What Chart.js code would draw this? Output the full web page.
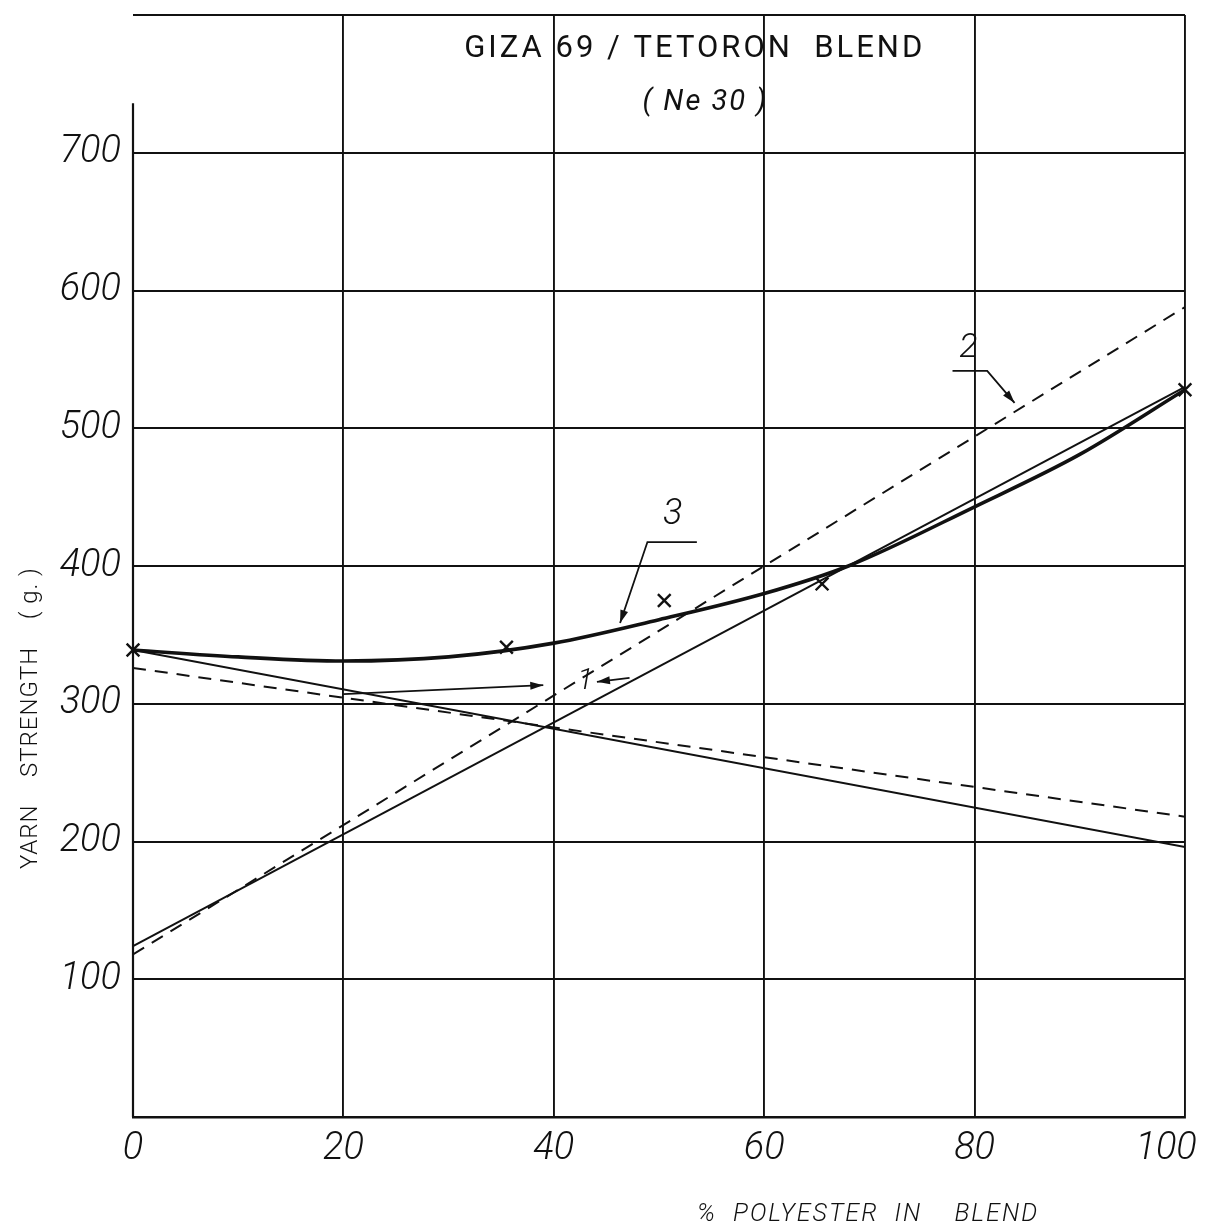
<!DOCTYPE html>
<html>
<head>
<meta charset="utf-8">
<script src="https://cdn.jsdelivr.net/npm/chart.js@4/dist/chart.umd.min.js"></script>
<style>
  html,body{margin:0;padding:0;background:#fff;}
  canvas{display:block;}
</style>
</head>
<body>
<canvas id="c" width="1211" height="1229"></canvas>
<script>
// ---- data ----
const xTickValues = [0, 20, 40, 60, 80, 100];
const yTickValues = [100, 200, 300, 400, 500, 600, 700];

// line 1 (solid) and line 2 (dashed) for each component
const solidFallX = [0, 100];
const solidFallY = [339, 196];
const dashFallX  = [0, 100];
const dashFallY  = [326, 218];
const solidRiseX = [0, 100];
const solidRiseY = [124, 530];
const dashRiseX  = [0, 100];
const dashRiseY  = [118, 588];

// curve 3 (measured blend strength)
const curve3X = [0, 10, 20, 30, 40, 50, 60, 68, 80, 90, 100];
const curve3Y = [339, 334, 331, 334, 344, 361, 380, 400, 443, 481, 528];

// observed points (x marks)
const obsX = [0, 35.5, 50.5, 65.5, 100];
const obsY = [339, 341, 375, 387, 528];

// texts
const titleLine1 = 'GIZA 69 / TETORON  BLEND';
const titleLine2 = '( Ne 30 )';
const yTitle = 'YARN    STRENGTH    ( g. )';
const xTitle = '%  POLYESTER  IN    BLEND';

// annotation labels & leaders (data units)
const labelTexts = ['3', '2', '1'];
const labelX = [51.3, 79.4, 43.0];
const labelY = [437, 558, 316];
const leader3X = [53.6, 48.9, 46.3];
const leader3Y = [417.4, 417.4, 358.6];
const leader2X = [77.9, 81.2, 83.8];
const leader2Y = [541.7, 541.7, 518.4];
const leader1aX = [20, 39];
const leader1aY = [307, 313.5];
const leader1bX = [47.2, 44.1];
const leader1bY = [318.8, 315.9];

const zip = (xs, ys) => xs.map((v, i) => ({x: v, y: ys[i]}));
const INK = '#111';
const FONT = 'Roboto, "DejaVu Sans", sans-serif';

function arrowHead(ctx, x0, y0, x1, y1, len, half) {
  const a = Math.atan2(y1 - y0, x1 - x0);
  ctx.beginPath();
  ctx.moveTo(x1, y1);
  ctx.lineTo(x1 - len * Math.cos(a) + half * Math.sin(a), y1 - len * Math.sin(a) - half * Math.cos(a));
  ctx.lineTo(x1 - len * Math.cos(a) - half * Math.sin(a), y1 - len * Math.sin(a) + half * Math.cos(a));
  ctx.closePath();
  ctx.fill();
}

const decor = {
  id: 'decor',
  beforeDatasetsDraw(chart) {
    const {ctx, scales: {x, y}} = chart;
    ctx.save();
    ctx.strokeStyle = INK;
    ctx.lineWidth = 2.2;
    ctx.beginPath();
    ctx.moveTo(x.getPixelForValue(0), y.getPixelForValue(0));
    ctx.lineTo(x.getPixelForValue(0), y.getPixelForValue(736));
    ctx.stroke();
    ctx.restore();
  },
  afterDatasetsDraw(chart) {
    const {ctx, scales: {x, y}} = chart;
    const px = v => x.getPixelForValue(v);
    const py = v => y.getPixelForValue(v);
    ctx.save();
    ctx.fillStyle = INK;
    ctx.strokeStyle = INK;

    // title
    ctx.textAlign = 'center';
    ctx.textBaseline = 'middle';
    ctx.font = '400 31px ' + FONT;
    if ('letterSpacing' in ctx) ctx.letterSpacing = '3px';
    ctx.fillText(titleLine1, px(53.4), py(775));
    ctx.font = 'italic 400 29px ' + FONT;
    if ('letterSpacing' in ctx) ctx.letterSpacing = '2px';
    ctx.fillText(titleLine2, px(54.4), py(736));
    if ('letterSpacing' in ctx) ctx.letterSpacing = '0px';

    // labels
    const sizes = [36, 34, 30];
    labelTexts.forEach((t, i) => {
      ctx.font = 'italic 300 ' + sizes[i] + 'px ' + FONT;
      ctx.fillText(t, px(labelX[i]), py(labelY[i]));
    });

    // leaders
    const drawLeader = (xs, ys) => {
      ctx.lineWidth = 1.8;
      ctx.beginPath();
      xs.forEach((v, i) => {
        if (i === 0) ctx.moveTo(px(v), py(ys[i]));
        else ctx.lineTo(px(v), py(ys[i]));
      });
      ctx.stroke();
      const n = xs.length;
      arrowHead(ctx, px(xs[n - 2]), py(ys[n - 2]), px(xs[n - 1]), py(ys[n - 1]), 13, 4);
    };
    drawLeader(leader3X, leader3Y);
    drawLeader(leader2X, leader2Y);
    drawLeader(leader1aX, leader1aY);
    drawLeader(leader1bX, leader1bY);

    // axis titles
    ctx.font = 'italic 300 25px ' + FONT;
    ctx.textAlign = 'center';
    if ('letterSpacing' in ctx) ctx.letterSpacing = '2px';
    ctx.fillText(xTitle, 868, 1215);
    if ('letterSpacing' in ctx) ctx.letterSpacing = '1px';
    ctx.save();
    ctx.translate(31, 718);
    ctx.rotate(-Math.PI / 2);
    ctx.font = '300 24px ' + FONT;
    ctx.fillText(yTitle, 0, 0);
    ctx.restore();
    ctx.restore();
  }
};

const lineBase = {showLine: true, pointRadius: 0, borderColor: INK, fill: false};

new Chart(document.getElementById('c'), {
  type: 'scatter',
  data: {
    datasets: [
      Object.assign({}, lineBase, {label: '1a', data: zip(solidFallX, solidFallY), borderWidth: 2}),
      Object.assign({}, lineBase, {label: '2a', data: zip(dashFallX, dashFallY), borderWidth: 2, borderDash: [13, 9]}),
      Object.assign({}, lineBase, {label: '1b', data: zip(solidRiseX, solidRiseY), borderWidth: 2}),
      Object.assign({}, lineBase, {label: '2b', data: zip(dashRiseX, dashRiseY), borderWidth: 2, borderDash: [13, 9]}),
      Object.assign({}, lineBase, {label: '3', data: zip(curve3X, curve3Y), borderWidth: 3.6, cubicInterpolationMode: 'monotone'}),
      {label: 'obs', data: zip(obsX, obsY), showLine: false, pointStyle: 'crossRot', pointRadius: 9,
       pointBorderWidth: 2.4, pointBorderColor: INK, pointBackgroundColor: INK, clip: false}
    ]
  },
  options: {
    responsive: false,
    devicePixelRatio: 1,
    animation: false,
    layout: {padding: {top: 15, right: 26, left: 0, bottom: 0}},
    plugins: {legend: {display: false}, tooltip: {enabled: false}, title: {display: false}},
    scales: {
      x: {
        type: 'linear', min: 0, max: 100,
        afterBuildTicks: s => { s.ticks = xTickValues.map(v => ({value: v})); },
        afterFit: s => { s.height = 112; s.paddingLeft = 0; s.paddingRight = 0; },
        grid: {
          color: c => (c.tick && c.tick.value === 0) ? 'rgba(0,0,0,0)' : INK,
          lineWidth: 1.9, drawTicks: false
        },
        border: {display: true, color: INK, width: 2.4},
        ticks: {
          color: INK, padding: 10,
          font: {family: FONT, size: 38, style: 'italic', weight: 300},
          callback: v => v === 100 ? '100\u2003' : String(v)
        }
      },
      y: {
        type: 'linear', min: 0, max: 800,
        afterBuildTicks: s => {
          s.ticks = [0, 100, 200, 300, 400, 500, 600, 700, 800].map(v => ({value: v}));
        },
        afterFit: s => { s.width = 133; s.paddingTop = 0; s.paddingBottom = 0; },
        grid: {
          color: c => (c.tick && c.tick.value === 0) ? 'rgba(0,0,0,0)' : INK,
          lineWidth: 1.9, drawTicks: false
        },
        border: {display: false},
        ticks: {
          color: INK, padding: 12,
          font: {family: FONT, size: 38, style: 'italic', weight: 300},
          callback: v => yTickValues.includes(v) ? String(v) : ''
        }
      }
    }
  },
  plugins: [decor]
});
</script>
</body>
</html>
